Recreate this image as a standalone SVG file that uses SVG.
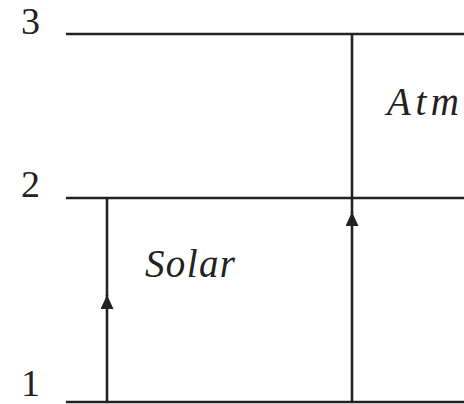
<svg xmlns="http://www.w3.org/2000/svg" width="464" height="404" viewBox="0 0 464 404">
<style>
.lvl{stroke:#222;stroke-width:2.6;fill:none}
.num{font-family:"Liberation Serif","DejaVu Serif",serif;font-size:38px;fill:#222}
.lab{font-family:"Liberation Serif","DejaVu Serif",serif;font-style:italic;font-size:39px;fill:#222}
.arr{stroke:#222;stroke-width:2.6;fill:none}
</style>
<defs>
<marker id="ah" markerUnits="userSpaceOnUse" viewBox="0 0 14 13" markerWidth="14" markerHeight="13" refX="14" refY="6.5" orient="auto">
<path d="M0,0 L14,6.5 L0,13 z" fill="#222"/>
</marker>
</defs>
<rect width="464" height="404" fill="#fff"/>
<g id="level3">
<line class="lvl" x1="66" y1="34" x2="464" y2="34"/>
<text class="num" x="21" y="34">3</text>
</g>
<g id="level2">
<line class="lvl" x1="66" y1="198" x2="464" y2="198"/>
<text class="num" x="21" y="197">2</text>
</g>
<g id="level1">
<line class="lvl" x1="66" y1="402" x2="464" y2="402"/>
<text class="num" x="21" y="396">1</text>
</g>
<g id="connectors">
<path class="arr" d="M107,402 L107,295" marker-end="url(#ah)"/>
<path class="arr" d="M107,296 L107,198"/>
<path class="arr" d="M352,402 L352,212" marker-end="url(#ah)"/>
<path class="arr" d="M352,213 L352,34"/>
</g>
<g id="label-solar">
<text class="lab" x="145" y="277" textLength="90" lengthAdjust="spacing">Solar</text>
</g>
<g id="label-atm">
<text class="lab" font-size="41" x="387" y="115" textLength="72" lengthAdjust="spacing">Atm</text>
</g>
</svg>
